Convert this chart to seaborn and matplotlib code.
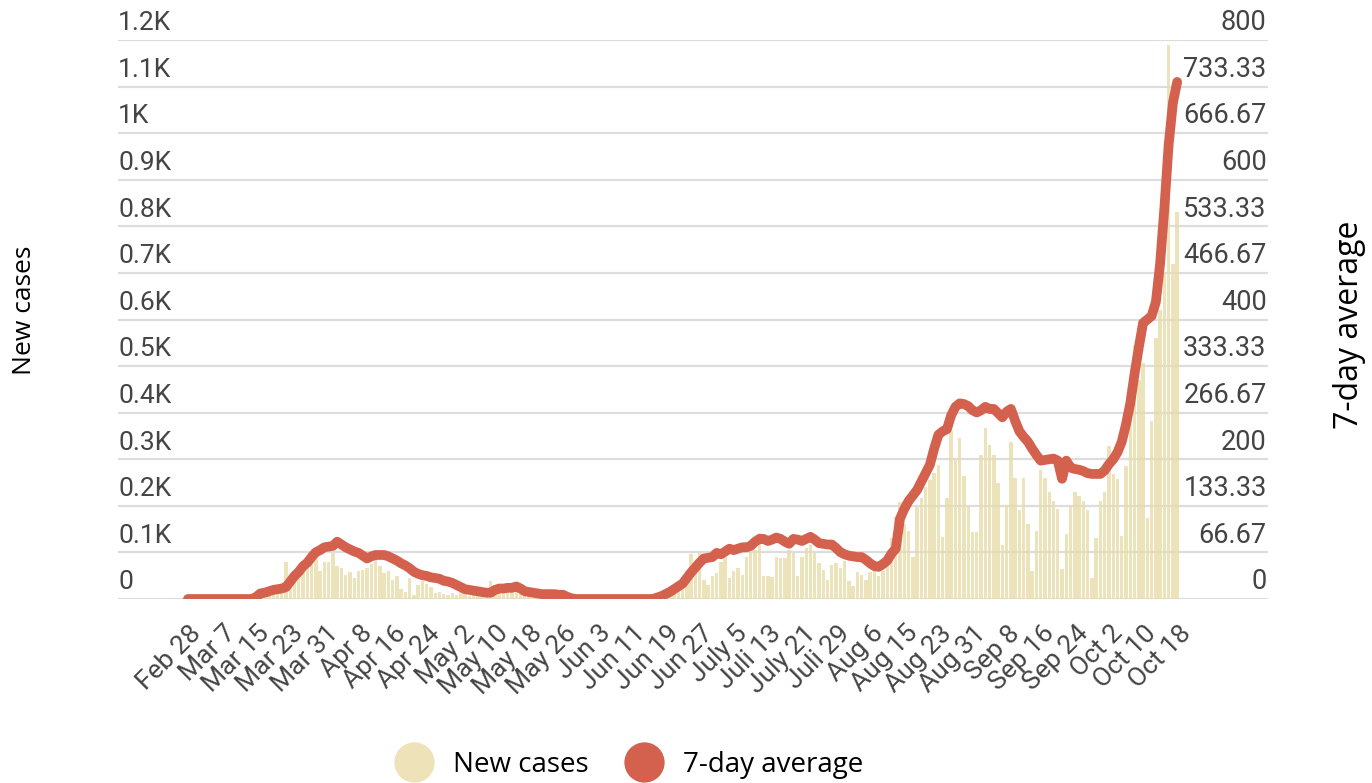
import numpy as np
import pandas as pd
import matplotlib.pyplot as plt
import matplotlib.transforms as mtransforms
from matplotlib.lines import Line2D
import seaborn as sns

# daily new cases, Feb 28 .. Oct 18 (one value per day)
new_cases = [
    0, 0, 0, 1, 0, 0, 1, 0, 1, 2,
    1, 2, 3, 2, 5, 4, 6, 8, 10, 12,
    15, 18, 20, 80, 25, 40, 55, 65, 70, 80,
    85, 60, 80, 80, 98, 70, 66, 52, 58, 46,
    60, 62, 66, 76, 85, 70, 55, 60, 40, 50,
    22, 15, 45, 8, 30, 38, 32, 26, 12, 15,
    10, 8, 12, 8, 14, 10, 6, 12, 8, 6,
    10, 38, 12, 18, 15, 20, 16, 14, 10, 8,
    6, 8, 4, 6, 5, 3, 4, 3, 2, 2,
    1, 2, 1, 1, 2, 1, 0, 1, 2, 1,
    1, 0, 1, 2, 1, 1, 2, 1, 3, 2,
    4, 6, 10, 14, 20, 30, 45, 60, 96, 60,
    100, 40, 31, 50, 56, 80, 90, 45, 60, 66,
    52, 91, 100, 105, 141, 49, 49, 48, 91, 88,
    88, 105, 98, 49, 91, 109, 115, 98, 77, 63,
    41, 74, 77, 66, 81, 38, 27, 59, 52, 41,
    59, 63, 50, 60, 76, 130, 176, 209, 162, 147,
    90, 198, 216, 241, 255, 270, 288, 133, 216, 360,
    302, 345, 263, 200, 144, 144, 309, 367, 331, 309,
    250, 115, 201, 338, 259, 191, 259, 162, 61, 147,
    277, 260, 229, 211, 193, 64, 139, 200, 229, 222,
    211, 190, 46, 132, 211, 229, 329, 268, 258, 136,
    286, 390, 545, 470, 506, 174, 383, 560, 620, 700,
    1190, 720, 830,
]

# 7-day average (right axis)
avg_7day = [
    0, 0, 0, 0, 0, 0, 0, 0, 0, 0,
    0, 0, 0, 0, 0, 0, 3, 8, 9, 11,
    13, 14, 15, 17, 25, 33, 39, 47, 52, 60,
    67, 70, 74, 75, 76, 82, 78, 74, 71, 68,
    66, 62, 58, 61, 63, 63, 63, 61, 58, 55,
    51, 48, 44, 39, 36, 34, 33, 31, 30, 29,
    26, 25, 23, 20, 17, 14, 13, 12, 11, 10,
    9, 9, 13, 15, 15, 16, 16, 18, 15, 11,
    10, 9, 8, 7, 7, 7, 7, 6, 6, 3,
    1, 0, 0, 0, 0, 0, 0, 0, 0, 0,
    0, 0, 0, 0, 0, 0, 0, 0, 0, 0,
    2, 4, 7, 10, 14, 18, 22, 30, 38, 45,
    52, 58, 59, 60, 66, 64, 68, 72, 70, 72,
    74, 74, 76, 82, 86, 86, 83, 85, 88, 86,
    82, 79, 86, 85, 83, 86, 89, 85, 80, 79,
    78, 78, 73, 67, 64, 62, 61, 60, 60, 56,
    51, 47, 46, 50, 55, 65, 72, 115, 129, 140,
    148, 156, 168, 180, 192, 215, 235, 240, 243, 263,
    275, 280, 279, 276, 270, 267, 270, 275, 272, 272,
    266, 260, 268, 272, 255, 240, 232, 225, 215, 206,
    198, 199, 200, 201, 198, 172, 198, 188, 186, 185,
    183, 180, 179, 179, 179, 184, 193, 200, 210, 225,
    250, 280, 322, 360, 395, 400, 405, 425, 480, 560,
    650, 710, 740,
]

# date labels, one every 8 days (as written on the original)
date_labels = ["Feb 28", "Mar 7", "Mar 15", "Mar 23", "Mar 31", "Apr 8", "Apr 16",
               "Apr 24", "May 2", "May 10", "May 18", "May 26", "Jun 3", "Jun 11",
               "Jun 19", "Jun 27", "July 5", "Juli 13", "July 21", "Juli 29", "Aug 6",
               "Aug 15", "Aug 23", "Aug 31", "Sep 8", "Sep 16", "Sep 24", "Oct 2",
               "Oct 10", "Oct 18"]

left_ticks = [0, 100, 200, 300, 400, 500, 600, 700, 800, 900, 1000, 1100, 1200]
left_tick_labels = ["0", "0.1K", "0.2K", "0.3K", "0.4K", "0.5K", "0.6K", "0.7K",
                    "0.8K", "0.9K", "1K", "1.1K", "1.2K"]
right_ticks = [0, 66.67, 133.33, 200, 266.67, 333.33, 400, 466.67, 533.33, 600,
               666.67, 733.33, 800]
right_tick_labels = ["0", "66.67", "133.33", "200", "266.67", "333.33", "400",
                     "466.67", "533.33", "600", "666.67", "733.33", "800"]

df = pd.DataFrame({"day": np.arange(len(new_cases)), "new": new_cases, "avg": avg_7day})

BAR = "#E8DCAA"
LINE = "#D4604E"
TXT = "#444444"

sns.set_theme(style="white")
plt.rcParams["font.family"] = ["Roboto", "DejaVu Sans"]

W, H = 1372, 783
fig = plt.figure(figsize=(W / 100, H / 100), dpi=100)
ax = fig.add_axes([118 / W, (H - 599) / H, 1150 / W, 559 / H])

sns.barplot(data=df, x="day", y="new", color=BAR, saturation=1, width=0.8,
            alpha=0.8, linewidth=0, ax=ax)
ax.set_ylim(0, 1200)
ax.set_xlim(-16.4, 253.3)
ax.grid(axis="y", color="#dddddd", linewidth=1.6)
ax.grid(axis="x", visible=False)
ax.set_axisbelow(True)
ax.set_yticks(left_ticks)
ax.set_yticklabels([])
ax.tick_params(axis="y", length=0)
for s in ax.spines.values():
    s.set_visible(False)
ax.set_xlabel("")
ax.set_ylabel("")

pos = list(range(0, len(new_cases), 8))
ax.set_xticks(pos)
ax.set_xticklabels(date_labels, rotation=45, ha="right", va="center",
                   rotation_mode="anchor", fontsize=19, color=TXT)
ax.tick_params(axis="x", length=0, pad=22)
shift = mtransforms.ScaledTranslation(7 / 72, 0, fig.dpi_scale_trans)
for lab in ax.get_xticklabels():
    lab.set_transform(lab.get_transform() + shift)

for v, t in zip(left_ticks, left_tick_labels):
    ax.annotate(t, xy=(0, v), xycoords=ax.get_yaxis_transform(), xytext=(0, 7),
                textcoords="offset points", ha="left", va="baseline",
                fontsize=19, color=TXT)

ax2 = ax.twinx()
sns.lineplot(data=df, x="day", y="avg", color=LINE, linewidth=7,
             solid_capstyle="round", solid_joinstyle="round", ax=ax2)
ax2.set_ylim(0, 800)
ax2.set_yticks([])
ax2.set_ylabel("")
ax2.set_xlabel("")
for s in ax2.spines.values():
    s.set_visible(False)
for v, t in zip(right_ticks, right_tick_labels):
    ax2.annotate(t, xy=(1, v), xycoords=ax2.get_yaxis_transform(), xytext=(-1, 7),
                 textcoords="offset points", ha="right", va="baseline",
                 fontsize=19.5, color=TXT)

lab_font = ["Open Sans", "DejaVu Sans"]
fig.text(25 / W, 1 - 310 / H, "New cases", rotation=90, ha="center", va="center",
         fontsize=19, color="black", family=lab_font)
fig.text(1350 / W, 1 - 325 / H, "7-day average", rotation=90, ha="center",
         va="center", fontsize=23, color="black", family=lab_font)

handles = [
    Line2D([], [], marker="o", ls="", markersize=29, markerfacecolor="#EDE2B8",
           markeredgecolor="none"),
    Line2D([], [], marker="o", ls="", markersize=29, markerfacecolor=LINE,
           markeredgecolor="none"),
]
fig.legend(handles, ["New cases", "7-day average"], loc="center",
           bbox_to_anchor=(625 / W, 1 - 765 / H), ncol=2, frameon=False,
           prop={"family": lab_font, "size": 20}, handletextpad=0.4,
           columnspacing=1.0, labelcolor="black")

fig.savefig("out.png", dpi=100)
